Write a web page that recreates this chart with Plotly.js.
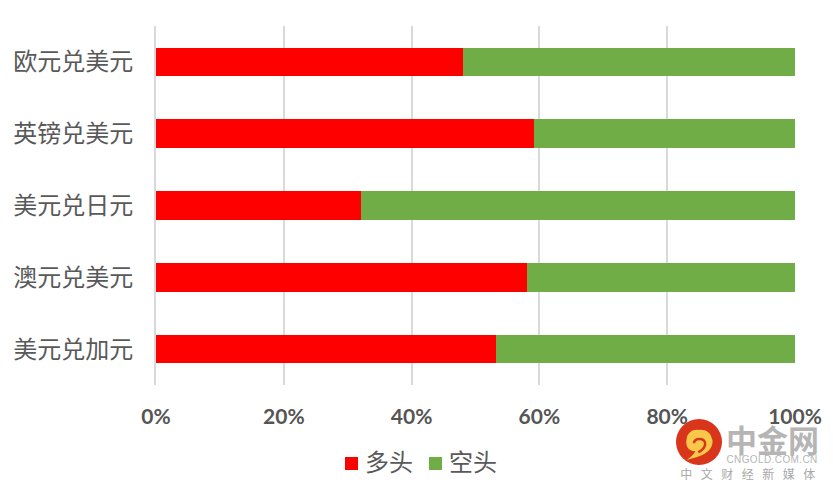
<!DOCTYPE html>
<html><head><meta charset="utf-8">
<script src="https://cdn.plot.ly/plotly-3.0.1.min.js"></script>
<style>html,body{margin:0;padding:0;background:#fff}#c{width:833px;height:491px}</style>
</head><body><div id="c"></div>
<script>
const categories = ["欧元兑美元","英镑兑美元","美元兑日元","澳元兑美元","美元兑加元"];
const longValues = [48.1,59.1,32.1,58.1,53.2];
const shortValues = [51.9,40.9,67.9,41.9,46.8];
const tickVals = [0,20,40,60,80,100];
const tickText = ["0%","20%","40%","60%","80%","100%"];
const cjk = '"Noto Sans CJK SC","Noto Sans",sans-serif';
const W = 833, H = 491;
const L = 156, T = 26, PW = 639, PH = 359;
const fx = x => (x - L) / PW, fy = y => (T + PH - y) / PH;
// logo outlines use crop coordinates of the watermark (3x, origin 670,414)
const lx = v => fx(670 + v / 3).toFixed(5), ly = v => fy(414 + v / 3).toFixed(5);
const logoPath = (cmds) => cmds.map(c => c[0] + c.slice(1).map((v, i) => i % 2 ? ly(v) : lx(v)).join(' ')).join(' ');
const traces = [
 {type:'bar',orientation:'h',name:'多头',y:categories,x:longValues,marker:{color:'#FF0000'}},
 {type:'bar',orientation:'h',name:'空头',y:categories,x:shortValues,marker:{color:'#70AD47'}}
];
const layout = {
 width:W,height:H,paper_bgcolor:'#fff',plot_bgcolor:'#fff',barmode:'stack',bargap:0.6,showlegend:true,
 margin:{l:L,r:W-L-PW,t:T,b:H-T-PH},
 xaxis:{range:[0,100],tickvals:tickVals,ticktext:tickText,showgrid:true,gridcolor:'#D9D9D9',gridwidth:2,zeroline:false,showline:false,ticks:'',ticklabelstandoff:17,
   tickfont:{family:'Lato,"Open Sans",sans-serif',size:21,color:'#555555',weight:700}},
 yaxis:{autorange:'reversed',showgrid:false,zeroline:false,showline:true,linecolor:'#D9D9D9',linewidth:2,ticks:'',ticklabelstandoff:16,
   tickfont:{family:cjk,size:24,color:'#595959'}},
 legend:{orientation:'h',x:(420-L)/PW,xanchor:'center',yref:'container',y:1-462/H,yanchor:'middle',itemwidth:30,traceorder:'normal',
   font:{family:cjk,size:24,color:'#595959'}},
 shapes:[
  {type:'circle',xref:'paper',yref:'paper',x0:fx(676),x1:fx(722),y0:fy(465),y1:fy(419),fillcolor:'#D9351B',line:{width:0},layer:'above'},
  {type:'path',xref:'paper',yref:'paper',layer:'above',fillcolor:'#F8C84A',line:{width:0},
   path:logoPath([['M',50,138],['C',65,128,72,120,76,112],['C',55,112,45,95,50,75],['C',52,55,70,45,85,48],['C',105,45,122,55,125,72],['C',132,85,125,105,110,115],['C',95,128,70,132,50,138],['Z']])},
  {type:'path',xref:'paper',yref:'paper',layer:'above',line:{width:2.5,color:'#D9351B'},
   path:logoPath([['M',72,88],['C',72,72,100,70,105,85],['C',108,100,95,110,85,115]])}
 ],
 annotations:[
  {xref:'paper',yref:'paper',x:fx(772),y:fy(438),text:'中金网',showarrow:false,xanchor:'center',yanchor:'middle',font:{family:cjk,size:31,color:'#B5B5B5',weight:700}},
  {xref:'paper',yref:'paper',x:fx(772),y:fy(459),text:'CNGOLD.COM.CN',showarrow:false,xanchor:'center',yanchor:'middle',font:{family:'"Liberation Sans",sans-serif',size:10,color:'#B5B5B5'}},
  {xref:'paper',yref:'paper',x:fx(752),y:fy(473),text:'中文财经新媒体',showarrow:false,xanchor:'center',yanchor:'middle',font:{family:cjk,size:12,color:'#A8A8A8'}}
 ]
};
// legend swatch and label positions of the reference, in page pixels
const swatchLeft = [345, 429], labelLeft = [365, 449], swatchSize = 13;
Plotly.newPlot('c',traces,layout,{displayModeBar:false,responsive:false}).then(gd => {
  gd.querySelectorAll('.legend .traces').forEach((g, i) => {
    const path = g.querySelector('.legendpoints path');
    const text = g.querySelector('.legendtext');
    const h = swatchSize / 2;
    path.setAttribute('d', `M${h},${h}H${-h}V${-h}H${h}Z`);
    const shift = (el, dx, dy) => el.setAttribute('transform', `translate(${dx},${dy}) ` + (el.getAttribute('transform') || ''));
    const pb = path.getBoundingClientRect();
    shift(path, swatchLeft[i] - pb.left, 457 - pb.top);
    shift(text, labelLeft[i] - text.getBoundingClientRect().left, 0);
  });
  const clip = gd.querySelector('.legend .scrollbox');
  if (clip) clip.removeAttribute('clip-path');
  const ann = gd.querySelectorAll('.annotation-text');
  ann[1].style.letterSpacing = '0.4px';
  ann[2].style.letterSpacing = '8.5px';
});
</script></body></html>
